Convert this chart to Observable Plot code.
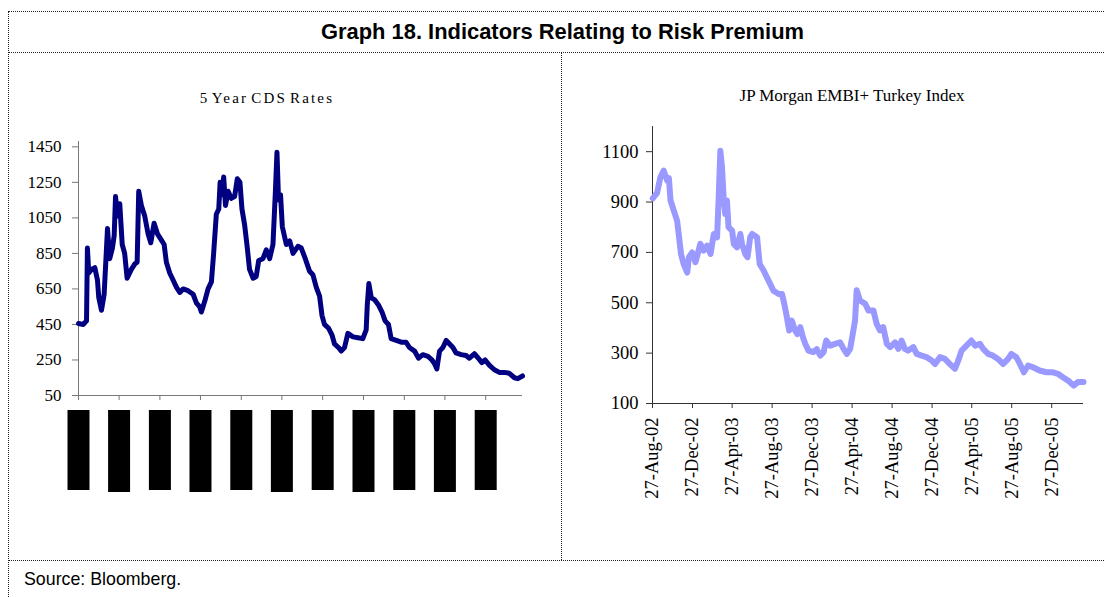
<!DOCTYPE html>
<html>
<head>
<meta charset="utf-8">
<script src="https://cdn.jsdelivr.net/npm/d3@7"></script>
<script src="https://cdn.jsdelivr.net/npm/@observablehq/plot@0.6"></script>
<style>
  html, body { margin: 0; padding: 0; background: #fff; }
  #page { position: relative; width: 1105px; height: 597px; overflow: hidden; background: #fff; }
  .hl { position: absolute; height: 0; border-top: 1px dotted #222; z-index: 5; }
  .vl { position: absolute; width: 0; border-left: 1px dotted #222; z-index: 5; }
  .chart { position: absolute; top: 54px; }
  .chart svg { display: block; background: transparent !important; }
  #title { position: absolute; left: 10px; width: 1105px; top: 20.5px; text-align: center;
           font-family: "Liberation Sans", Arial, sans-serif;
           font-weight: bold; font-size: 21.9px; line-height: 1; color: #000; z-index: 6; }
  .sub { position: absolute; text-align: center; font-family: "Liberation Serif", "Times New Roman", serif;
         line-height: 1; color: #000; z-index: 6; white-space: nowrap; }
  #source { position: absolute; left: 24px; top: 570.5px; font-family: "Liberation Sans", Arial, sans-serif;
            font-size: 17.8px; line-height: 1; color: #000; z-index: 6; }
</style>
</head>
<body>
<svg width="0" height="0" style="position:absolute">
  <defs>
    <filter id="boxfill" x="-0.02" y="-0.04" width="1.04" height="1.08">
      <feFlood flood-color="black"/>
    </filter>
  </defs>
</svg>
<div id="page">
  <div class="hl" style="left:8px; width:1096px; top:11px;"></div>
  <div class="hl" style="left:8px; width:1096px; top:52px;"></div>
  <div class="hl" style="left:8px; width:1096px; top:560px;"></div>
  <div class="vl" style="left:8px; top:11px; height:586px;"></div>
  <div class="vl" style="left:561px; top:52px; height:508px;"></div>
  <div id="title">Graph 18. Indicators Relating to Risk Premium</div>
  <div class="sub" style="left:167px; width:200px; top:91.4px; font-size:15px; letter-spacing:2.2px; word-spacing:-3px;">5 Year CDS Rates</div>
  <div class="sub" style="left:702px; width:300px; top:86.8px; font-size:17px;">JP Morgan EMBI+ Turkey Index</div>
  <div id="leftChart" class="chart" style="left:0px; width:560px;"></div>
  <div id="rightChart" class="chart" style="left:562px; width:543px;"></div>
  <div id="source">Source: Bloomberg.</div>
</div>
<script>
// ---------- Data: 5 Year CDS Rates (left panel) ----------
const cdsDates = [
  "2000-10-27","2000-11-17","2000-12-02","2000-12-06","2000-12-12","2000-12-24","2001-01-08","2001-01-20",
  "2001-01-26","2001-02-07","2001-02-19","2001-03-06","2001-03-16","2001-03-28","2001-04-05","2001-04-11",
  "2001-04-20","2001-04-30","2001-05-11","2001-05-22","2001-06-02","2001-06-21","2001-07-06","2001-07-17",
  "2001-07-24","2001-08-05","2001-08-20","2001-09-04","2001-09-16","2001-10-01","2001-10-16","2001-10-31",
  "2001-11-15","2001-11-25","2001-12-10","2001-12-25","2002-01-09","2002-01-24","2002-02-08","2002-03-02",
  "2002-03-25","2002-04-09","2002-04-23","2002-05-01","2002-05-16","2002-05-31","2002-06-15","2002-06-25",
  "2002-07-07","2002-07-18","2002-07-24","2002-08-02","2002-08-09","2002-08-17","2002-08-29","2002-09-12",
  "2002-09-27","2002-10-09","2002-10-21","2002-10-30","2002-11-11","2002-11-23","2002-12-03","2002-12-19",
  "2003-01-02","2003-01-13","2003-02-01","2003-02-16","2003-03-03","2003-03-18","2003-03-29","2003-04-05",
  "2003-04-12","2003-04-21","2003-04-29","2003-05-17","2003-06-01","2003-06-16","2003-07-08","2003-07-23",
  "2003-08-10","2003-08-29","2003-09-13","2003-09-28","2003-10-13","2003-10-24","2003-11-04","2003-11-22",
  "2003-12-08","2003-12-19","2004-01-06","2004-01-18","2004-02-02","2004-02-17","2004-03-11","2004-04-02",
  "2004-04-24","2004-05-09","2004-05-14","2004-05-21","2004-06-01","2004-06-15","2004-07-03","2004-07-19",
  "2004-08-02","2004-08-17","2004-08-29","2004-09-21","2004-10-13","2004-11-04","2004-11-19","2004-12-12",
  "2004-12-30","2005-01-18","2005-02-10","2005-02-28","2005-03-11","2005-03-22","2005-04-03","2005-04-18",
  "2005-05-03","2005-05-18","2005-06-02","2005-06-16","2005-07-09","2005-07-31","2005-08-15","2005-09-06",
  "2005-09-24","2005-10-10","2005-10-24","2005-11-13","2005-12-05","2005-12-27","2006-01-19","2006-02-10",
  "2006-03-05","2006-03-20","2006-04-10"
];
const cdsValues = [
  455,450,470,880,740,760,770,700,
  600,530,620,990,820,880,950,1170,
  1060,1130,900,850,710,760,790,800,
  1200,1120,1060,960,910,1020,960,930,
  900,800,740,700,660,630,650,640,
  620,570,550,520,580,650,690,850,
  1070,1100,1250,1180,1280,1120,1200,1160,
  1170,1270,1250,1100,1010,880,760,710,
  720,810,820,870,820,900,1200,1420,
  1150,1180,1000,900,920,850,890,880,
  820,750,730,660,610,500,450,430,
  390,340,320,300,320,400,380,375,
  370,420,560,680,600,590,560,520,
  470,450,370,360,350,350,320,300,
  260,280,270,250,230,200,300,320,
  360,340,320,290,280,275,260,285,
  260,235,250,220,195,180,180,175,
  150,145,160
];
const cdsYTicks = [50, 250, 450, 650, 850, 1050, 1250, 1450];
const cdsXTicks = ["2000-10-27","2001-04-27","2001-10-27","2002-04-27","2002-10-27","2003-04-27",
                   "2003-10-27","2004-04-27","2004-10-27","2005-04-27","2005-10-27"];

// ---------- Data: JP Morgan EMBI+ Turkey Index (right panel) ----------
const embiDates = [
  "2002-08-28","2002-09-10","2002-09-20","2002-09-30","2002-10-11","2002-10-16","2002-10-21","2002-10-31",
  "2002-11-10","2002-11-15","2002-11-22","2002-11-30","2002-12-11","2002-12-16","2002-12-26","2003-01-05",
  "2003-01-12","2003-01-20","2003-01-30","2003-02-10","2003-02-20","2003-03-02","2003-03-12","2003-03-17",
  "2003-03-22","2003-03-27","2003-04-01","2003-04-06","2003-04-11","2003-04-16","2003-04-27","2003-05-02",
  "2003-05-12","2003-05-22","2003-05-27","2003-06-06","2003-06-13","2003-06-21","2003-06-27","2003-07-12",
  "2003-07-20","2003-08-01","2003-08-11","2003-08-21","2003-08-31","2003-09-16","2003-09-26","2003-10-03",
  "2003-10-11","2003-10-18","2003-10-26","2003-11-05","2003-11-12","2003-11-21","2003-11-29","2003-12-06",
  "2003-12-16","2003-12-31","2004-01-10","2004-01-21","2004-01-31","2004-02-08","2004-02-20","2004-03-06",
  "2004-03-21","2004-04-01","2004-04-11","2004-04-21","2004-04-29","2004-05-06","2004-05-11","2004-05-21",
  "2004-06-06","2004-06-16","2004-07-01","2004-07-11","2004-07-21","2004-07-31","2004-08-11","2004-08-21",
  "2004-09-05","2004-09-15","2004-09-25","2004-10-05","2004-10-15","2004-10-31","2004-11-10","2004-11-25",
  "2004-12-10","2004-12-26","2005-01-05","2005-01-20","2005-02-04","2005-02-19","2005-03-07","2005-03-17",
  "2005-03-27","2005-04-11","2005-04-26","2005-05-07","2005-05-22","2005-06-01","2005-06-16","2005-07-01",
  "2005-07-16","2005-08-01","2005-08-16","2005-08-26","2005-09-10","2005-09-21","2005-10-03","2005-10-16",
  "2005-10-31","2005-11-20","2005-12-11","2005-12-31","2006-01-15","2006-01-30","2006-02-15","2006-03-04",
  "2006-03-17","2006-04-03"
];
const embiValues = [
  915,936,998,1025,985,995,906,866,
  826,773,694,654,620,681,700,661,
  694,734,707,727,694,773,760,919,
  1104,1038,919,853,906,800,786,734,
  720,773,734,694,681,760,773,760,
  654,628,601,575,548,535,535,496,
  443,390,429,390,376,403,363,337,
  310,304,316,290,304,350,330,337,
  343,317,297,317,376,430,550,509,
  496,469,469,416,390,403,337,324,
  343,317,350,317,310,324,297,290,
  284,271,257,284,277,257,238,271,
  310,330,350,330,337,317,297,290,
  277,257,277,297,284,257,224,251,
  244,231,224,224,218,204,191,171,
  185,185
];
const embiYTicks = [100, 300, 500, 700, 900, 1100];
const embiXTicks = ["2002-08-27","2002-12-27","2003-04-27","2003-08-27","2003-12-27","2004-04-27",
                    "2004-08-27","2004-12-27","2005-04-27","2005-08-27","2005-12-27"];

// ---------- Build ----------
const fmt = d3.utcFormat("%d-%b-%y");
const plain = d => String(d);
const serif = "'Liberation Serif','Times New Roman',Times,serif";

const cds = cdsDates.map((d, i) => ({date: new Date(d), value: cdsValues[i]}));
const cdsTickDates = cdsXTicks.map(d => new Date(d));
const cdsDomain = [cds[0].date, cds[cds.length - 1].date];

const leftPlot = Plot.plot({
  width: 560, height: 505,
  marginLeft: 78, marginRight: 38, marginTop: 87, marginBottom: 164,
  x: {type: "utc", domain: cdsDomain, label: null},
  y: {domain: [50, 1480], label: null},
  style: {fontFamily: serif, background: "transparent", color: "black"},
  marks: [
    Plot.ruleX([cdsDomain[0]], {stroke: "#777"}),
    Plot.ruleY([50], {stroke: "#777"}),
    Plot.axisY({ticks: cdsYTicks, tickFormat: plain, tickSize: 6, tickPadding: 11, fontSize: 17, stroke: "#777", fill: "black", label: null}),
    Plot.axisX({ticks: cdsTickDates, tickSize: 5, tickFormat: () => "", stroke: "#777", label: null}),
    Plot.text(cdsTickDates, {x: d => d, text: d => fmt(d), frameAnchor: "bottom", rotate: -90,
      textAnchor: "end", lineAnchor: "middle", dy: 16.5, fontSize: 18.5, fill: "black",
      ariaDescription: "cds-date-labels"}),
    Plot.line(cds, {x: "date", y: "value", stroke: "#000080", strokeWidth: 5, strokeLinejoin: "round"})
  ]
});
document.getElementById("leftChart").appendChild(leftPlot);
d3.select(leftPlot).selectAll('g[aria-description="cds-date-labels"] text').attr("filter", "url(#boxfill)");

const embi = embiDates.map((d, i) => ({date: new Date(d), value: embiValues[i]}));
const embiTickDates = embiXTicks.map(d => new Date(d));
const embiDomain = [new Date(embiXTicks[0]), embi[embi.length - 1].date];

const rightPlot = Plot.plot({
  width: 543, height: 505,
  marginLeft: 90, marginRight: 22, marginTop: 72, marginBottom: 156,
  x: {type: "utc", domain: embiDomain, label: null},
  y: {domain: [100, 1200], label: null},
  style: {fontFamily: serif, background: "transparent", color: "black"},
  marks: [
    Plot.ruleX([embiDomain[0]], {stroke: "#333"}),
    Plot.ruleY([100], {stroke: "#333"}),
    Plot.axisY({ticks: embiYTicks, tickFormat: plain, tickSize: 6, tickPadding: 8, fontSize: 18.5, stroke: "#333", fill: "black", label: null}),
    Plot.axisX({ticks: embiTickDates, tickSize: 5, tickFormat: () => "", stroke: "#333", label: null}),
    Plot.text(embiTickDates, {x: d => d, text: d => fmt(d), frameAnchor: "bottom", rotate: -90,
      textAnchor: "end", lineAnchor: "middle", dy: 14, fontSize: 18.5, fill: "black"}),
    Plot.line(embi, {x: "date", y: "value", stroke: "#9999ff", strokeWidth: 6, strokeLinejoin: "round"})
  ]
});
document.getElementById("rightChart").appendChild(rightPlot);
</script>
</body>
</html>
